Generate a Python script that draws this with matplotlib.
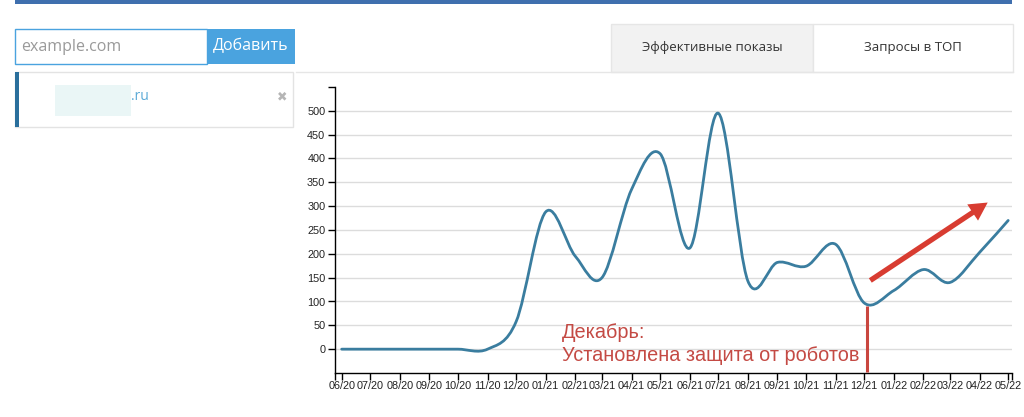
import datetime as dt
import matplotlib
matplotlib.use("Agg")
import matplotlib.pyplot as plt
import matplotlib.dates as mdates
from matplotlib.path import Path
from matplotlib.patches import PathPatch, Rectangle, FancyArrowPatch
from matplotlib.ticker import FixedLocator

W, H = 1024, 417

# --- data ---
months = ["2020-06", "2020-07", "2020-08", "2020-09", "2020-10", "2020-11",
          "2020-12", "2021-01", "2021-02", "2021-03", "2021-04", "2021-05",
          "2021-06", "2021-07", "2021-08", "2021-09", "2021-10", "2021-11",
          "2021-12", "2022-01", "2022-02", "2022-03", "2022-04", "2022-05"]
shows = [0, 0, 0, 0, 0, 0, 58, 288, 195, 150, 335, 410,
         212, 495, 143, 182, 174, 220, 97, 123, 167, 140, 203, 270]
y_ticks = [0, 50, 100, 150, 200, 250, 300, 350, 400, 450, 500]
tab_labels = ["Эффективные показы", "Запросы в ТОП"]
note_text = "Декабрь:\nУстановлена защита от роботов"
note_date = "2021-12-04"

dates = [dt.datetime.strptime(m, "%Y-%m") for m in months]
xs = mdates.date2num(dates)


def px(x, y):
    # pixel (top-left origin) -> figure fraction
    return x / W, 1 - y / H


fig = plt.figure(figsize=(W / 100, H / 100), dpi=100)
fig.patch.set_facecolor("white")

# --- page chrome ---
def rect(x0, y0, x1, y1, fc="none", ec="none", lw=1.0, z=1):
    fx, fy = px(x0, y1)
    fig.patches.append(Rectangle((fx, fy), (x1 - x0) / W, (y1 - y0) / H,
                                 transform=fig.transFigure, facecolor=fc,
                                 edgecolor=ec, linewidth=lw, zorder=z))

rect(15, 0, 1012, 4, fc="#3f6fae")
# input + button
rect(15, 29, 207, 64, fc="white", ec="#4aa3df")
rect(207, 29, 295, 64, fc="#4aa3df")
fig.text(*px(21, 47), "example.com", family="Open Sans", fontsize=11.5,
         color="#9a9a9a", va="center", ha="left")
fig.text(*px(251, 46), "Добавить", family="Open Sans", fontsize=11.5,
         color="white", va="center", ha="center")
# site panel
rect(15, 72, 293, 127, fc="white", ec="#e3e3e3")
rect(15, 72, 19, 127, fc="#2a6f9c")
rect(55, 85, 131, 116, fc="#eaf6f6")
fig.text(*px(131, 97), ".ru", family="Open Sans", fontsize=10,
         color="#5aa9d6", va="center", ha="left")
fig.text(*px(282, 97), "✖", family="DejaVu Sans", fontsize=9,
         color="#b5b5b5", va="center", ha="center")
# tabs
fig.lines.append(plt.Line2D([296 / W, 1013 / W], [1 - 72 / H] * 2,
                            transform=fig.transFigure, color="#e6e6e6", lw=1))
rect(611, 24, 813, 72, fc="#f2f2f2", ec="#e6e6e6")
rect(813, 24, 1013, 72, fc="white", ec="#e6e6e6")
fig.text(*px(712, 48), tab_labels[0], family="Open Sans", fontsize=9.5,
         color="#333333", va="center", ha="center")
fig.text(*px(913, 48), tab_labels[1], family="Open Sans", fontsize=9.5,
         color="#333333", va="center", ha="center")

# --- chart ---
ax_l, ax_r, ax_t, ax_b = 335, 1012, 87, 373
ax = fig.add_axes([ax_l / W, 1 - ax_b / H, (ax_r - ax_l) / W, (ax_b - ax_t) / H])
ax.set_facecolor("none")

x0 = mdates.date2num(dt.datetime(2020, 5, 25))
x1 = mdates.date2num(dt.datetime(2022, 5, 5))
ax.set_xlim(x0, x1)
ax.set_ylim(-50, 550)

for s in ["top", "right"]:
    ax.spines[s].set_visible(False)
for s in ["left", "bottom"]:
    ax.spines[s].set_color("black")
    ax.spines[s].set_linewidth(1)

for v in y_ticks:
    ax.axhline(v, color="#dcdcdc", lw=1, zorder=0, xmax=1.0)

ax.set_yticks(y_ticks)
ax.yaxis.set_minor_locator(FixedLocator([550]))
ax.set_xticks(xs)
ax.set_xticklabels([d.strftime("%m/%y") for d in dates])
ax.xaxis.set_minor_locator(FixedLocator([x0, x1]))
ax.tick_params(axis="both", which="both", length=5, width=1, color="black",
               labelsize=7.8, labelcolor="#222222")
ax.tick_params(axis="x", pad=1)
ax.tick_params(axis="y", pad=2)
for lab in ax.get_xticklabels() + ax.get_yticklabels():
    lab.set_family("Liberation Sans")

# cardinal (catmull-rom) curve through the monthly points, as bezier segments
pts = list(zip(xs, shows))
verts = [pts[0]]
codes = [Path.MOVETO]
n = len(pts)
for i in range(n - 1):
    p0 = pts[max(i - 1, 0)]
    p1 = pts[i]
    p2 = pts[i + 1]
    p3 = pts[min(i + 2, n - 1)]
    c1 = (p1[0] + (p2[0] - p0[0]) / 6, p1[1] + (p2[1] - p0[1]) / 6)
    c2 = (p2[0] - (p3[0] - p1[0]) / 6, p2[1] - (p3[1] - p1[1]) / 6)
    verts += [c1, c2, p2]
    codes += [Path.CURVE4] * 3
ax.add_patch(PathPatch(Path(verts, codes), facecolor="none",
                       edgecolor="#3a7d9f", lw=2.0, zorder=3,
                       capstyle="round", joinstyle="round"))

# annotation
nd = mdates.date2num(dt.datetime.strptime(note_date, "%Y-%m-%d"))
ax.plot([nd, nd], [-48, 90], color="#c9463f", lw=2.2, zorder=4,
        solid_capstyle="butt")
fig.text(*px(562, 361), note_text, family="Liberation Sans", fontsize=14.3,
         color="#c44a44", ha="left", va="baseline", linespacing=1.3)
fig.patches.append(FancyArrowPatch(px(868, 282), px(990, 201),
                                   transform=fig.transFigure,
                                   arrowstyle="simple,head_width=1.4,head_length=1.3,tail_width=0.38",
                                   mutation_scale=10, color="#d83c31",
                                   zorder=5, lw=0))

fig.savefig("out.png", dpi=100)
